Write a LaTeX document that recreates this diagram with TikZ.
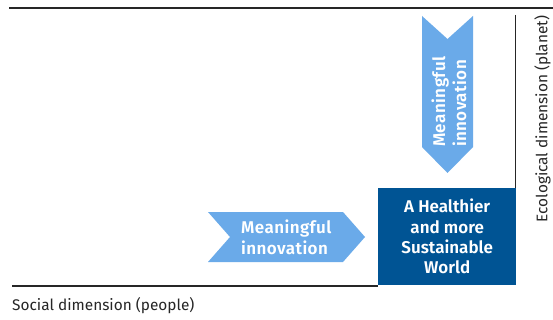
\documentclass[tikz,border=0pt]{standalone}
\usepackage{fontspec}
\setmainfont{Fira Sans}[BoldFont={Fira Sans SemiBold}]
\begin{document}
\begin{tikzpicture}[x=1pt,y=-1pt,
  axis/.style={draw=black!85,line width=1.4pt},
  arrowfill/.style={fill=lightarrow,draw=none},
  arrowtext/.style={text=white,font=\bfseries\fontsize{17}{21}\selectfont\addfontfeatures{LetterSpace=2.5},align=left,inner sep=0pt},
  worldbox/.style={fill=darkblue,draw=none,text=white,font=\bfseries\fontsize{17}{20.3}\selectfont,align=center,inner sep=0pt},
  axislabel/.style={text=black!85,font=\fontsize{15.4}{17}\selectfont,inner sep=0pt}]
\definecolor{lightarrow}{RGB}{106,170,233}
\definecolor{darkblue}{RGB}{0,84,148}
\useasboundingbox[fill=white] (0,0) rectangle (553,320);

% corner points of the frame
\coordinate (tl) at (9,8);
\coordinate (tr) at (553,8);
\coordinate (vt) at (515.5,15);
\coordinate (bl) at (12,286);

% target box
\node[worldbox,minimum width=138pt,minimum height=97pt,anchor=north west] (world) at (378,188)
  {A Healthier\\and more\\Sustainable\\World};

% frame lines
\draw[axis] (tl) -- (tr);
\draw[axis] (vt) -- (vt |- world.north);
\draw[axis] (bl) -- (bl -| world.west);

% horizontal chevron
\fill[arrowfill] (208,212) -- (230,237) -- (208,262) -- (343,262) -- (365,237) -- (343,212) -- cycle;
\node[arrowtext,anchor=west] (hinno) at (241,237) {Meaningful\\innovation};

% vertical chevron
\fill[arrowfill] (422,16) -- (447.5,39) -- (473,16) -- (473,147) -- (447.5,173) -- (422,147) -- cycle;
\node[arrowtext,anchor=west,rotate=90] (vinno) at (449,147) {Meaningful\\innovation};

% axis labels
\node[axislabel,anchor=base west] (social) at (12,310) {Social dimension (people)};
\node[axislabel,anchor=center,rotate=90] (eco) at (542.5,119) {Ecological dimension (planet)};
\end{tikzpicture}
\end{document}
